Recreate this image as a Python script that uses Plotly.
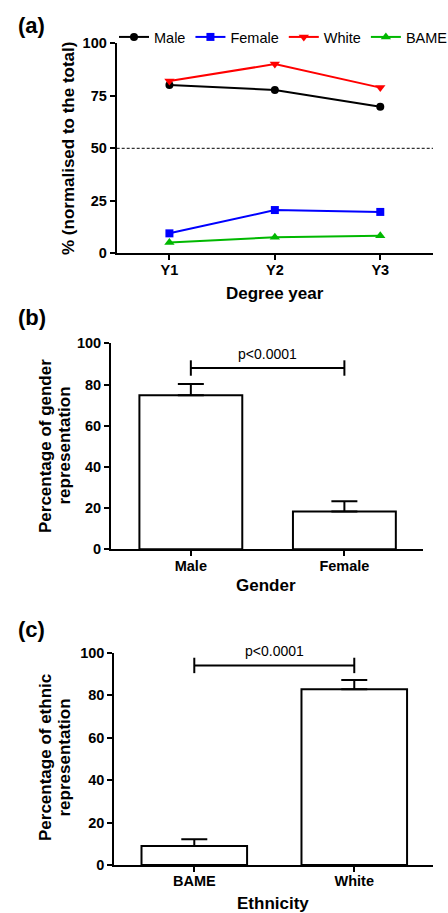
import plotly.graph_objects as go

# ---------------- data ----------------
years = ["Y1", "Y2", "Y3"]
male_pct = [80.1, 77.8, 69.8]
female_pct = [9.5, 20.6, 19.7]
white_pct = [82.0, 90.1, 78.9]
bame_pct = [5.2, 7.6, 8.4]

gender_cats = ["Male", "Female"]
gender_mean = [74.8, 18.4]
gender_err = [5.4, 4.9]
gender_p_y = 88

eth_cats = ["BAME", "White"]
eth_mean = [8.9, 82.8]
eth_err = [3.2, 4.3]
eth_p_y = 94

FONT = "Liberation Sans, Arial, sans-serif"
W, H = 448, 913

def py(px):
    return 1 - px / H

def pxx(px):
    return px / W

fig = go.Figure()

# ---------- panel (a) ----------
series = [
    ("Male", male_pct, "black", "circle", 8),
    ("Female", female_pct, "#0000FF", "square", 8),
    ("White", white_pct, "#FF0000", "triangle-down", 9),
    ("BAME", bame_pct, "#00B800", "triangle-up", 9),
]
for name, vals, col, sym, sz in series:
    fig.add_trace(go.Scatter(
        x=years, y=vals, name=name, mode="lines+markers",
        line=dict(color=col, width=2),
        marker=dict(symbol=sym, size=sz, color=col),
        xaxis="x", yaxis="y", cliponaxis=False,
    ))

# ---------- panel (b) ----------
fig.add_trace(go.Bar(
    x=gender_cats, y=gender_mean, width=0.67,
    marker=dict(color="white", line=dict(color="black", width=2)),
    error_y=dict(type="data", symmetric=False, array=gender_err,
                 arrayminus=[0, 0], color="black", thickness=2, width=13),
    xaxis="x2", yaxis="y2", showlegend=False,
))
fig.add_trace(go.Scatter(
    x=gender_cats, y=[gender_p_y, gender_p_y], mode="lines+markers",
    line=dict(color="black", width=2),
    marker=dict(symbol="line-ns", size=11, line=dict(color="black", width=2)),
    xaxis="x2", yaxis="y2", showlegend=False, cliponaxis=False,
))

# ---------- panel (c) ----------
fig.add_trace(go.Bar(
    x=eth_cats, y=eth_mean, width=0.66,
    marker=dict(color="white", line=dict(color="black", width=2)),
    error_y=dict(type="data", symmetric=False, array=eth_err,
                 arrayminus=[0, 0], color="black", thickness=2, width=13),
    xaxis="x3", yaxis="y3", showlegend=False,
))
fig.add_trace(go.Scatter(
    x=eth_cats, y=[eth_p_y, eth_p_y], mode="lines+markers",
    line=dict(color="black", width=2),
    marker=dict(symbol="line-ns", size=11, line=dict(color="black", width=2)),
    xaxis="x3", yaxis="y3", showlegend=False, cliponaxis=False,
))

tickfont = dict(family=FONT, size=14.5, color="black", weight="bold")
axis_common = dict(showline=True, linewidth=2, linecolor="black", ticks="outside",
                   ticklen=5, tickwidth=2, tickcolor="black", showgrid=False,
                   zeroline=False, tickfont=tickfont, automargin=False)
xextra = dict(ticklabelstandoff=-3)

fig.update_layout(
    width=W, height=H, margin=dict(l=0, r=0, t=0, b=0, autoexpand=False),
    paper_bgcolor="white", plot_bgcolor="white",
    font=dict(family=FONT, color="black"),
    xaxis=dict(domain=[pxx(116.7), pxx(433)], type="category", range=[-0.5, 2.5],
               anchor="y", **axis_common, **xextra),
    yaxis=dict(domain=[py(253.3), py(43.3)], range=[0, 100],
               tickvals=[0, 25, 50, 75, 100], anchor="x", **axis_common),
    xaxis2=dict(domain=[pxx(111), pxx(422.7)], type="category", range=[-0.52, 1.51],
                anchor="y2", **axis_common, **xextra),
    yaxis2=dict(domain=[py(549.3), py(343.3)], range=[0, 100],
                tickvals=[0, 20, 40, 60, 80, 100], anchor="x2", **axis_common),
    xaxis3=dict(domain=[pxx(114.3), pxx(433.3)], type="category", range=[-0.5, 1.494],
                anchor="y3", **axis_common, **xextra),
    yaxis3=dict(domain=[py(865), py(652.7)], range=[0, 100],
                tickvals=[0, 20, 40, 60, 80, 100], anchor="x3", **axis_common),
    legend=dict(orientation="h", x=pxx(114), xanchor="left", y=py(37), yanchor="middle",
                font=dict(family=FONT, size=14.5, color="black"),
                bgcolor="rgba(0,0,0,0)", itemwidth=30, tracegroupgap=0),
    showlegend=True,
)

fig.add_shape(type="line", xref="x domain", yref="y", x0=0, x1=1, y0=50, y1=50,
              line=dict(color="black", width=1, dash="3px,2px"))

title_font = dict(family=FONT, size=17, color="black", weight="bold")
label_font = dict(family=FONT, size=22, color="black", weight="bold")
ann = []
# panel labels
ann.append(dict(text="(a)", x=pxx(16), y=py(26), xanchor="left", yanchor="middle", font=label_font))
ann.append(dict(text="(b)", x=pxx(16), y=py(317), xanchor="left", yanchor="middle", font=label_font))
ann.append(dict(text="(c)", x=pxx(16), y=py(629), xanchor="left", yanchor="middle", font=label_font))
# axis titles
ann.append(dict(text="% (normalised to the total)", x=pxx(68), y=py(149), textangle=-90,
                xanchor="center", yanchor="middle", font=title_font))
ann.append(dict(text="Degree year", x=pxx(275), y=py(293), xanchor="center", yanchor="middle", font=title_font))
ann.append(dict(text="Percentage of gender", x=pxx(45), y=py(446), textangle=-90,
                xanchor="center", yanchor="middle", font=title_font))
ann.append(dict(text="representation", x=pxx(63.5), y=py(446), textangle=-90,
                xanchor="center", yanchor="middle", font=title_font))
ann.append(dict(text="Gender", x=pxx(266), y=py(585), xanchor="center", yanchor="middle", font=title_font))
ann.append(dict(text="Percentage of ethnic", x=pxx(45), y=py(758), textangle=-90,
                xanchor="center", yanchor="middle", font=title_font))
ann.append(dict(text="representation", x=pxx(63.5), y=py(758), textangle=-90,
                xanchor="center", yanchor="middle", font=title_font))
ann.append(dict(text="Ethnicity", x=pxx(273), y=py(903), xanchor="center", yanchor="middle", font=title_font))
for a in ann:
    a.update(xref="paper", yref="paper", showarrow=False)
    fig.add_annotation(**a)

pfont = dict(family=FONT, size=14, color="black")
fig.add_annotation(text="p<0.0001", xref="x2", yref="y2", x=0.5, y=gender_p_y,
                   yanchor="bottom", yshift=4, showarrow=False, font=pfont)
fig.add_annotation(text="p<0.0001", xref="x3", yref="y3", x=0.5, y=eth_p_y,
                   yanchor="bottom", yshift=4, showarrow=False, font=pfont)

fig.write_html("out.html")
